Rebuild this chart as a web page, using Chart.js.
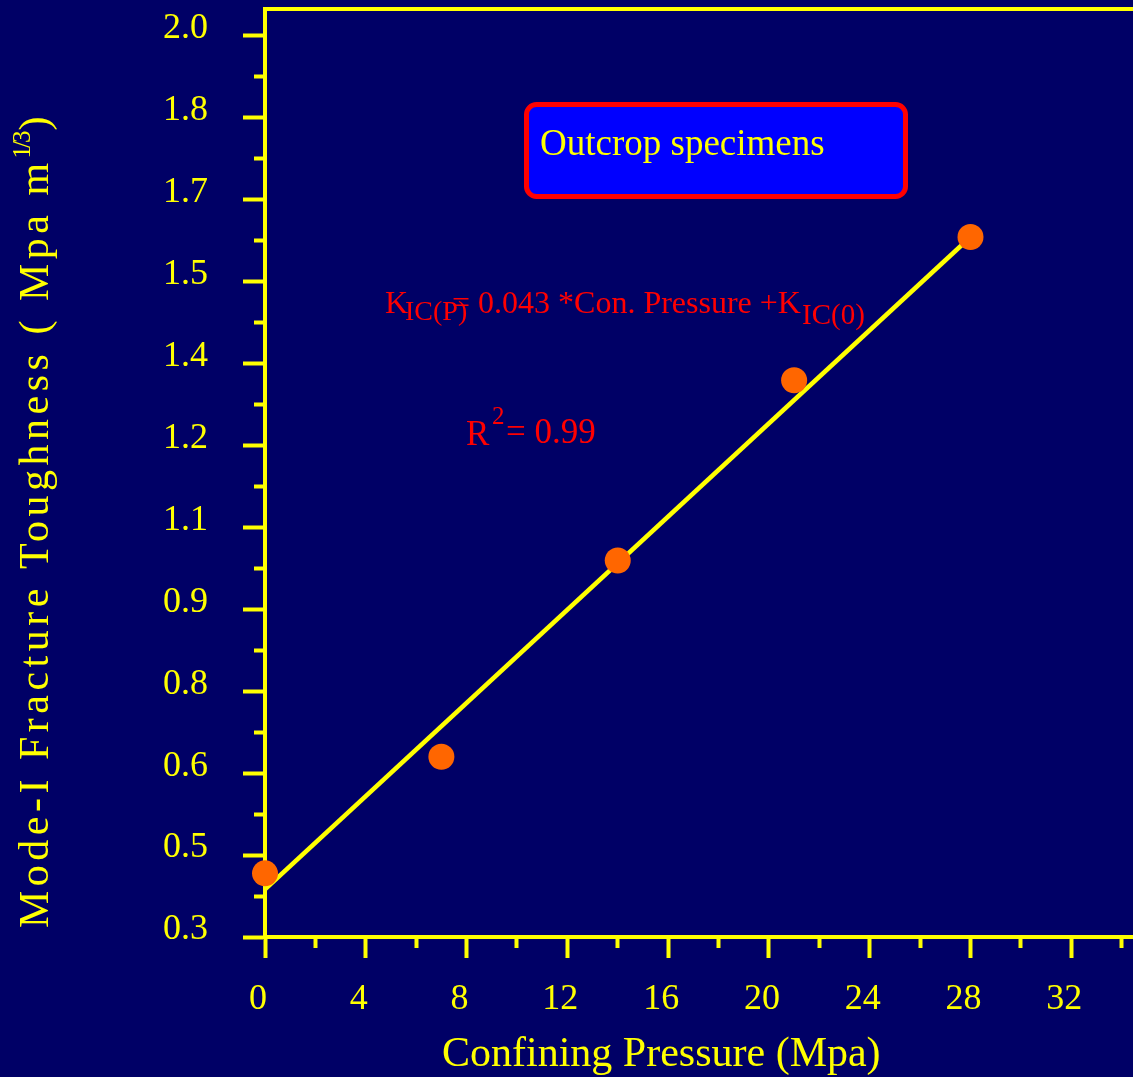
<!DOCTYPE html>
<html>
<head>
<meta charset="utf-8">
<script src="https://cdn.jsdelivr.net/npm/chart.js@4.4.1/dist/chart.umd.min.js"></script>
<style>
  html, body { margin: 0; padding: 0; background: #000066; overflow: hidden; }
  canvas { display: block; }
</style>
</head>
<body>
<canvas id="myChart" width="1133" height="1077"></canvas>
<script>
// measured points
var pressure = [0, 7, 14, 21, 28];
var toughness = [0.42, 0.64, 1.01, 1.35, 1.62];
// fitted line
var fitPressure = [0, 28];
var fitToughness = [0.39, 1.62];
// axis labels as printed on the original
var xTickLabels = ['0', '4', '8', '12', '16', '20', '24', '28', '32'];
var yTickLabels = ['0.3', '0.5', '0.6', '0.8', '0.9', '1.1', '1.2', '1.4', '1.5', '1.7', '1.8', '2.0'];

var xMin = 0, xMax = 34.45, xStep = 4;
var yMin = 0.3, yTop = 2.0, yMax = 2.05;

var YELLOW = '#ffff00';
var SERIF = "'Liberation Serif', 'Times New Roman', serif";

function toPoints(xs, ys) {
	return xs.map(function (x, i) { return { x: x, y: ys[i] }; });
}

function buildXTicks(scale) {
	var t = [];
	for (var k = 0; k * xStep / 2 <= xMax; k++) {
		var major = k % 2 === 0;
		t.push({ value: k * xStep / 2, minor: !major, text: major ? xTickLabels[k / 2] : '' });
	}
	scale.ticks = t;
}

function buildYTicks(scale) {
	var n = yTickLabels.length, step = (yTop - yMin) / (n - 1), t = [];
	for (var i = 0; i < n; i++) {
		t.push({ value: yMin + i * step, minor: false, text: yTickLabels[i] });
		if (i < n - 1) t.push({ value: yMin + (i + 0.5) * step, minor: true, text: '' });
	}
	scale.ticks = t;
}

function tickText(value, index, ticks) { return ticks[index].text; }

// no extra label padding around the plot, the frame sits at fixed place
function noPad(s) {
	s.paddingTop = 0; s.paddingBottom = 0; s.paddingLeft = 0; s.paddingRight = 0;
}

function roundBox(c, x, y, w, h, r) {
	c.beginPath();
	c.moveTo(x + r, y);
	c.arcTo(x + w, y, x + w, y + h, r);
	c.arcTo(x + w, y + h, x, y + h, r);
	c.arcTo(x, y + h, x, y, r);
	c.arcTo(x, y, x + w, y, r);
	c.closePath();
}

var decor = {
	id: 'decor',
	beforeDatasetsDraw: function (chart) {
		var c = chart.ctx;
		c.save();
		c.textAlign = 'left';
		c.textBaseline = 'alphabetic';
		c.fillStyle = '#ff0000';
		c.font = '32px ' + SERIF;
		c.fillText('K', 385, 313);
		c.font = '28px ' + SERIF;
		c.fillText('IC(P)', 405, 320);
		c.font = '32px ' + SERIF;
		c.fillText('= 0.043 *Con. Pressure +K', 452, 313);
		c.font = '29px ' + SERIF;
		c.fillText('IC(0)', 802, 324);

		c.font = '35px ' + SERIF;
		c.fillText('R', 466, 445);
		c.font = '25px ' + SERIF;
		c.fillText('2', 492, 424);
		c.font = '35px ' + SERIF;
		c.fillText('= 0.99', 506, 443);
		c.restore();
	},
	afterDraw: function (chart) {
		var c = chart.ctx, a = chart.chartArea;
		c.save();
		// top frame line
		c.strokeStyle = YELLOW;
		c.lineWidth = 4;
		c.beginPath();
		c.moveTo(a.left - 2, a.top);
		c.lineTo(a.right, a.top);
		c.stroke();

		// legend box
		roundBox(c, 526.5, 104.5, 379, 92, 10);
		c.fillStyle = '#0000ff';
		c.fill();
		c.lineWidth = 5;
		c.strokeStyle = '#ff0000';
		c.stroke();
		c.fillStyle = YELLOW;
		c.textAlign = 'left';
		c.textBaseline = 'alphabetic';
		c.font = '37px ' + SERIF;
		c.fillText('Outcrop specimens', 540, 155);

		// x title
		c.font = '42px ' + SERIF;
		c.fillText('Confining Pressure (Mpa)', 442, 1066);

		// y title, rotated
		c.translate(48, 928);
		c.rotate(-Math.PI / 2);
		var main = 'Mode-I Fracture Toughness ( Mpa m';
		c.font = '42px ' + SERIF;
		c.letterSpacing = '4.5px';
		c.fillText(main, 0, 0);
		var w = c.measureText(main).width;
		c.font = '25px ' + SERIF;
		c.letterSpacing = '-2px';
		c.fillText('1/3', w, -18);
		var w2 = c.measureText('1/3').width;
		c.font = '42px ' + SERIF;
		c.letterSpacing = '0px';
		c.fillText(')', w + w2 + 2, 0);
		c.restore();
	}
};

var ctx = document.getElementById('myChart').getContext('2d');
var chart = new Chart(ctx, {
	type: 'scatter',
	data: {
		datasets: [
			{
				data: toPoints(pressure, toughness),
				backgroundColor: '#ff6600',
				borderWidth: 0,
				pointRadius: 13,
				showLine: false,
				clip: false
			},
			{
				data: toPoints(fitPressure, fitToughness),
				borderColor: YELLOW,
				borderWidth: 4.5,
				pointRadius: 0,
				showLine: true
			}
		]
	},
	options: {
		responsive: false,
		animation: false,
		devicePixelRatio: 1,
		layout: { padding: { top: 9, left: 0, right: 0, bottom: 0 }, autoPadding: false },
		plugins: { legend: { display: false }, tooltip: { enabled: false } },
		scales: {
			x: {
				type: 'linear',
				min: xMin,
				max: xMax,
				afterBuildTicks: buildXTicks,
				afterFit: function (s) { s.height = 140; noPad(s); },
				border: { color: YELLOW, width: 4 },
				grid: {
					drawOnChartArea: false,
					drawTicks: true,
					tickLength: 21,
					tickWidth: 4,
					tickColor: YELLOW,
					tickBorderDash: function (c) { return c.tick && c.tick.minor ? [9, 40] : []; }
				},
				ticks: {
					callback: tickText,
					autoSkip: false,
					maxRotation: 0,
					minRotation: 0,
					padding: 20,
					labelOffset: -7,
					color: YELLOW,
					font: { family: SERIF, size: 36 }
				}
			},
			y: {
				type: 'linear',
				min: yMin,
				max: yMax,
				afterBuildTicks: buildYTicks,
				afterFit: function (s) { s.width = 265; noPad(s); },
				border: { color: YELLOW, width: 4 },
				grid: {
					drawOnChartArea: false,
					drawTicks: true,
					tickLength: 22,
					tickWidth: 4,
					tickColor: YELLOW,
					tickBorderDash: function (c) { return c.tick && c.tick.minor ? [0, 11, 40, 0] : []; }
				},
				ticks: {
					callback: tickText,
					autoSkip: false,
					padding: 35,
					labelOffset: -7,
					color: YELLOW,
					font: { family: SERIF, size: 36 }
				}
			}
		}
	},
	plugins: [decor]
});
</script>
</body>
</html>
